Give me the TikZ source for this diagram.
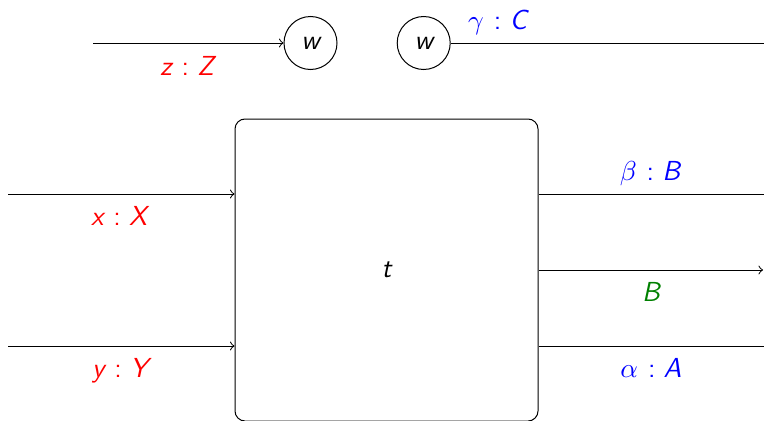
\documentclass[tikz,border=0pt]{standalone}
\usepackage{fontspec}
% typing colon with even spacing on both sides
\newcommand{\ofcolon}{\hspace{0.36em}{\upshape:}\hspace{0.3em}}
\begin{document}
\begin{tikzpicture}[x=0.4pt, y=-0.4pt,
  every node/.style={font=\fontsize{11}{13}\selectfont\sffamily\slshape},
  wire/.style={line width=0.4pt},
  proc/.style={draw, line width=0.4pt, rounded corners=4pt,
    minimum width=121.2pt, minimum height=120.8pt, inner sep=0pt},
  gen/.style={draw, circle, line width=0.4pt, minimum size=21.2pt, inner sep=0pt},
  lbl/.style={anchor=base, inner sep=0pt},
  inred/.style={lbl, text=red},
  outblue/.style={lbl, text=blue}]
\definecolor{wiregreen}{RGB}{0,128,0}
\useasboundingbox (0,0) rectangle (764,420);

% process box and the two generators
\node[proc] (t) at (386.5,270) {t};
\node[gen] (w1) at (310.5,43) {w};
\node[gen] (w2) at (423.7,43) {w};

% free ends of the wires
\coordinate (zin) at (93,43);
\coordinate (xin) at (8,194);
\coordinate (yin) at (8,346);
\coordinate (cout) at (764,43);
\coordinate (bout) at (764,194);
\coordinate (mout) at (763,270);
\coordinate (aout) at (764,346);

% wires
\draw[wire,->] (zin) -- (w1);
\draw[wire] (w2) -- (cout);
\draw[wire,->] (xin) -- (t.west |- xin);
\draw[wire,->] (yin) -- (t.west |- yin);
\draw[wire] (t.east |- bout) -- (bout);
\draw[wire,->] (t.east |- mout) -- (mout);
\draw[wire] (t.east |- aout) -- (aout);

% wire labels
\node[inred] (lz) at (187,75) {z\ofcolon Z};
\node[inred] (lx) at (119,225) {x\ofcolon X};
\node[inred] (ly) at (120,377) {y\ofcolon Y};
\node[outblue] (lc) at (497.5,29) {$\gamma$\ofcolon C};
\node[outblue] (lb) at (650,180) {$\beta$\ofcolon B};
\node[lbl, text=wiregreen] (lm) at (651,301) {B};
\node[outblue] (la) at (651,377) {$\alpha$\ofcolon A};
\end{tikzpicture}
\end{document}
